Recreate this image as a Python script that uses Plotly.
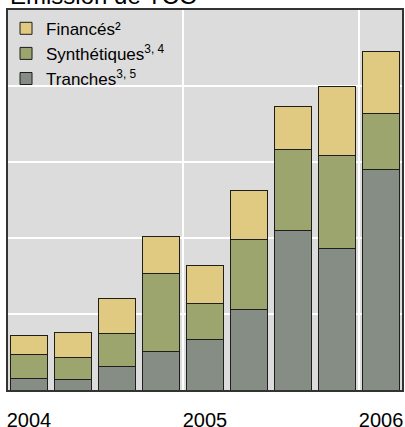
import plotly.graph_objects as go

periods = ["2004 T1", "2004 T2", "2004 T3", "2004 T4", "2005 T1", "2005 T2", "2005 T3", "2005 T4", "2006 T1"]
tranches = [3.9, 3.3, 7.8, 12.6, 16.7, 26.5, 52.6, 46.6, 72.4]
synthetiques = [7.9, 7.3, 10.9, 25.8, 11.6, 23.1, 26.6, 30.7, 18.4]
finances = [6.0, 8.2, 11.4, 12.0, 12.7, 16.0, 14.1, 22.7, 20.4]
tick_labels = ["2004", "2005", "2006"]
tick_positions = [0, 4, 8]
year_bounds = [3.5, 7.5]

x = list(range(len(periods)))
line = dict(color="#1e1e1e", width=1)

fig = go.Figure()
fig.add_trace(go.Bar(x=x, y=tranches, name="Tranches<sup>3, 5</sup>",
                     marker=dict(color="#868d84", line=line), width=0.84))
fig.add_trace(go.Bar(x=x, y=synthetiques, name="Synthétiques<sup>3, 4</sup>",
                     marker=dict(color="#9ba56d", line=line), width=0.84))
fig.add_trace(go.Bar(x=x, y=finances, name="Financés²",
                     marker=dict(color="#e0c981", line=line), width=0.84))
# invisible trace on secondary axis for year-boundary grid lines
fig.add_trace(go.Scatter(x=year_bounds, y=[None, None], xaxis="x2", showlegend=False,
                         hoverinfo="skip"))

fig.update_layout(
    width=405, height=427,
    barmode="stack",
    paper_bgcolor="white",
    plot_bgcolor="#dcdcdc",
    margin=dict(l=8, r=3, t=10, b=37),
    font=dict(family="Liberation Sans, Arial", size=18, color="black"),
    xaxis=dict(range=[-0.477, 8.477], tickvals=tick_positions, ticktext=tick_labels,
               showgrid=False, zeroline=False, ticks="outside", ticklen=11,
               tickcolor="rgba(0,0,0,0)", showline=True, linecolor="#333333",
               linewidth=1.5, mirror=True, tickfont=dict(size=20), automargin=False),
    xaxis2=dict(range=[-0.477, 8.477], overlaying="x", tickvals=year_bounds,
                showticklabels=False, showgrid=True, gridcolor="white", gridwidth=2,
                zeroline=False, layer="below traces", automargin=False),
    yaxis=dict(range=[0, 125], dtick=25, showticklabels=False, showgrid=True,
               gridcolor="white", gridwidth=2, zeroline=False, showline=True,
               linecolor="#333333", linewidth=1.5, mirror=True, automargin=False),
    legend=dict(x=-0.005, y=0.998, xanchor="left", yanchor="top", traceorder="reversed",
                bgcolor="rgba(0,0,0,0)", font=dict(size=17), itemwidth=30,
                tracegroupgap=0),
    showlegend=True,
    bargap=0.16,
    annotations=[dict(text="Emission de TCO", x=0, xref="paper", y=1, yref="paper",
                      xanchor="left", yanchor="bottom", yshift=-1, showarrow=False,
                      font=dict(size=24, color="black"))],
)

fig.write_html("out.html", config={"displayModeBar": False},
               post_script="document.body.style.margin='0';")
